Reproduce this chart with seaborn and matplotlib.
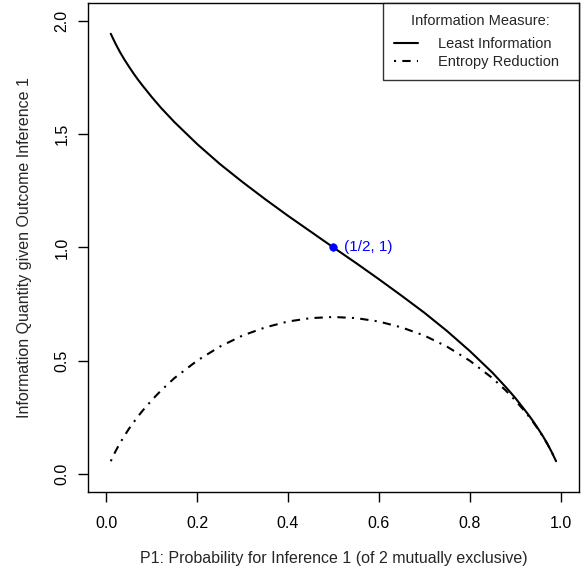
import numpy as np
import pandas as pd
import matplotlib
matplotlib.use("Agg")
import matplotlib.pyplot as plt
import seaborn as sns

# ---------- data ----------
p1 = [0.01, 0.02, 0.03, 0.04, 0.05, 0.06, 0.07, 0.08, 0.10, 0.12, 0.15, 0.20, 0.25, 0.30,
      0.35, 0.40, 0.45, 0.50, 0.55, 0.60, 0.65, 0.70, 0.75, 0.80, 0.85, 0.88, 0.90, 0.92,
      0.93, 0.94, 0.95, 0.96, 0.97, 0.98, 0.99]
least_info = [1.944, 1.902, 1.864, 1.830, 1.799, 1.769, 1.741, 1.715, 1.665, 1.618, 1.554,
              1.457, 1.369, 1.289, 1.213, 1.140, 1.070, 1.000, 0.931, 0.860, 0.787, 0.712,
              0.631, 0.543, 0.447, 0.382, 0.336, 0.285, 0.259, 0.231, 0.201, 0.170, 0.136,
              0.098, 0.056]
entropy_red = [0.056, 0.098, 0.135, 0.168, 0.199, 0.227, 0.254, 0.279, 0.325, 0.367, 0.423,
               0.500, 0.562, 0.611, 0.647, 0.673, 0.688, 0.693, 0.688, 0.673, 0.647, 0.611,
               0.562, 0.500, 0.423, 0.367, 0.325, 0.279, 0.254, 0.227, 0.199, 0.168, 0.135,
               0.098, 0.056]
mark_x, mark_y = [0.5], [1.0]
x_ticks = [0.0, 0.2, 0.4, 0.6, 0.8, 1.0]
y_ticks = [0.0, 0.5, 1.0, 1.5, 2.0]

df = pd.DataFrame({"p1": p1, "Least Information": least_info, "Entropy Reduction": entropy_red})

sns.set_style("ticks")
plt.rcParams['font.family'] = ['Liberation Sans', 'DejaVu Sans']
FS = 11.5
LEG_FS = 10.5

fig = plt.figure(figsize=(5.87, 5.73), dpi=100)
ax = fig.add_axes([0.150, 0.1414, 0.836, 0.8534])

sns.lineplot(data=df, x="p1", y="Least Information", ax=ax, color="black",
             lw=1.5, label="Least Information")
sns.lineplot(data=df, x="p1", y="Entropy Reduction", ax=ax, color="black",
             lw=1.5, linestyle=(0, (1, 3, 4, 3)), label="Entropy Reduction")
sns.scatterplot(x=mark_x, y=mark_y, ax=ax, color="blue", s=30, edgecolor="blue", zorder=5)
ax.text(0.523, 1.0, "(1/2, 1)", color="blue", fontsize=11, va="center", ha="left")

ax.set_xlim(-0.04, 1.04)
ax.set_ylim(-0.08, 2.08)
ax.set_xticks(x_ticks)
ax.set_xticklabels([f"{t:.1f}" for t in x_ticks])
ax.set_yticks(y_ticks)
ax.set_yticklabels([f"{t:.1f}" for t in y_ticks], rotation=90, va="center")
ax.tick_params(direction="out", length=7.2, width=1, labelsize=FS, colors="black")
ax.tick_params(axis="x", pad=10.4)
ax.tick_params(axis="y", pad=6)
for s in ax.spines.values():
    s.set_visible(True)
    s.set_linewidth(1)
    s.set_color("black")

ax.set_xlabel("P1: Probability for Inference 1 (of 2 mutually exclusive)", fontsize=FS, labelpad=14)
ax.set_ylabel("Information Quantity given Outcome Inference 1", fontsize=FS, labelpad=16.5)

# legend box spans the right 40% of the axes, entries left-aligned inside it
leg = ax.legend(title="Information Measure:", loc="upper right", mode="expand",
                bbox_to_anchor=(0.6005, 0.0, 0.3995, 1.0), frameon=True, fancybox=False,
                fontsize=LEG_FS, title_fontsize=LEG_FS, borderaxespad=0, handlelength=1.7,
                handletextpad=1.35, borderpad=0.75, labelspacing=0.3)
leg._legend_box.sep = 0.6 * LEG_FS
leg.get_frame().set_edgecolor("black")
leg.get_frame().set_linewidth(1)

fig.savefig("out.png", dpi=100)
